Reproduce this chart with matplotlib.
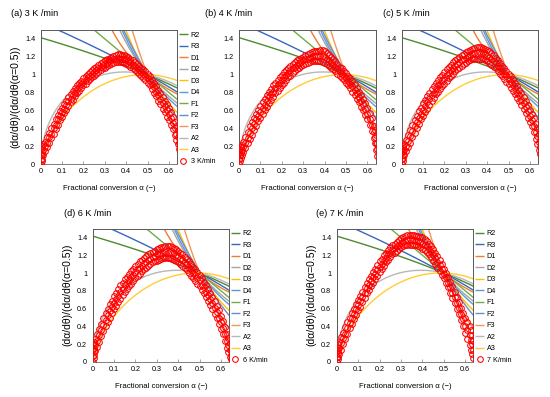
import numpy as np
import matplotlib
matplotlib.use("Agg")
import matplotlib.pyplot as plt
from matplotlib.lines import Line2D

plt.rcParams['font.family'] = ['Liberation Sans', 'DejaVu Sans']

# ---------------- data ----------------
alpha_grid = [0.000, 0.004, 0.008, 0.012, 0.02, 0.03, 0.04, 0.05, 0.06, 0.07, 0.08, 0.09,
              0.10, 0.11, 0.12, 0.13, 0.14, 0.15, 0.16, 0.17, 0.18, 0.19, 0.20, 0.21, 0.22,
              0.23, 0.24, 0.25, 0.26, 0.27, 0.28, 0.29, 0.30, 0.31, 0.32, 0.33, 0.34, 0.35,
              0.36, 0.37, 0.38, 0.39, 0.40, 0.41, 0.42, 0.43, 0.44, 0.45, 0.46, 0.47, 0.48,
              0.49, 0.50, 0.51, 0.52, 0.53, 0.54, 0.55, 0.56, 0.57, 0.58, 0.59, 0.60, 0.61,
              0.62, 0.63, 0.635, 0.64, 0.645]

a_hi = [0.10, 0.18, 0.20, 0.22, 0.25, 0.30, 0.35, 0.40, 0.45, 0.50, 0.55, 0.59, 0.63, 0.67, 0.71,
        0.75, 0.78, 0.82, 0.85, 0.88, 0.91, 0.93, 0.96, 0.98, 1.01, 1.03, 1.05, 1.07, 1.09, 1.11,
        1.13, 1.14, 1.16, 1.17, 1.18, 1.20, 1.21, 1.22, 1.23, 1.23, 1.22, 1.22, 1.21, 1.20, 1.18,
        1.16, 1.14, 1.12, 1.10, 1.08, 1.06, 1.04, 1.01, 0.98, 0.94, 0.91, 0.87, 0.83, 0.79, 0.75,
        0.71, 0.67, 0.63, 0.58, 0.53, 0.47, 0.42, 0.38, 0.32]
a_mid = [0.05, 0.10, 0.13, 0.16, 0.20, 0.24, 0.30, 0.34, 0.40, 0.44, 0.50, 0.54, 0.58, 0.62, 0.66,
         0.70, 0.73, 0.77, 0.80, 0.84, 0.86, 0.89, 0.92, 0.94, 0.97, 0.99, 1.01, 1.03, 1.05, 1.07,
         1.09, 1.11, 1.12, 1.13, 1.15, 1.16, 1.17, 1.18, 1.19, 1.18, 1.18, 1.17, 1.17, 1.15, 1.14,
         1.11, 1.10, 1.07, 1.05, 1.03, 1.01, 0.99, 0.96, 0.93, 0.89, 0.86, 0.81, 0.77, 0.73, 0.68,
         0.65, 0.60, 0.56, 0.51, 0.46, 0.40, 0.34, 0.30, 0.24]
a_lo = [0.00, 0.03, 0.06, 0.10, 0.14, 0.19, 0.24, 0.29, 0.34, 0.39, 0.44, 0.49, 0.53, 0.57, 0.61,
        0.65, 0.69, 0.72, 0.76, 0.79, 0.82, 0.85, 0.88, 0.90, 0.93, 0.95, 0.97, 0.99, 1.01, 1.03,
        1.05, 1.07, 1.08, 1.10, 1.11, 1.12, 1.13, 1.14, 1.14, 1.14, 1.14, 1.13, 1.12, 1.11, 1.09,
        1.07, 1.05, 1.03, 1.01, 0.99, 0.96, 0.94, 0.91, 0.88, 0.84, 0.80, 0.76, 0.71, 0.67, 0.62,
        0.58, 0.53, 0.49, 0.44, 0.39, 0.32, 0.27, 0.22, 0.17]

b_hi = [0.12, 0.17, 0.19, 0.21, 0.25, 0.30, 0.36, 0.42, 0.47, 0.52, 0.56, 0.61, 0.65, 0.69, 0.73,
        0.77, 0.81, 0.84, 0.88, 0.91, 0.94, 0.97, 1.00, 1.03, 1.05, 1.08, 1.10, 1.12, 1.14, 1.16,
        1.18, 1.19, 1.20, 1.22, 1.23, 1.24, 1.25, 1.26, 1.26, 1.27, 1.28, 1.28, 1.26, 1.24, 1.22,
        1.20, 1.17, 1.15, 1.12, 1.09, 1.07, 1.04, 1.02, 0.99, 0.96, 0.93, 0.89, 0.85, 0.81, 0.77,
        0.73, 0.68, 0.63, 0.57, 0.51, 0.43, 0.38, 0.32, 0.24]
b_mid = [0.06, 0.10, 0.13, 0.16, 0.19, 0.24, 0.29, 0.35, 0.40, 0.45, 0.50, 0.54, 0.58, 0.63, 0.66,
         0.70, 0.75, 0.78, 0.81, 0.85, 0.88, 0.91, 0.94, 0.97, 1.00, 1.02, 1.05, 1.07, 1.09, 1.11,
         1.13, 1.14, 1.16, 1.17, 1.18, 1.19, 1.20, 1.21, 1.21, 1.21, 1.21, 1.21, 1.20, 1.18, 1.16,
         1.14, 1.11, 1.09, 1.07, 1.04, 1.01, 0.99, 0.96, 0.93, 0.90, 0.87, 0.83, 0.79, 0.75, 0.70,
         0.67, 0.62, 0.56, 0.50, 0.44, 0.36, 0.30, 0.24, 0.17]
b_lo = [0.00, 0.03, 0.07, 0.10, 0.13, 0.18, 0.23, 0.28, 0.33, 0.38, 0.43, 0.48, 0.52, 0.56, 0.60,
        0.64, 0.68, 0.72, 0.75, 0.79, 0.82, 0.85, 0.88, 0.91, 0.94, 0.97, 0.99, 1.02, 1.04, 1.06,
        1.08, 1.10, 1.11, 1.12, 1.13, 1.14, 1.15, 1.15, 1.15, 1.15, 1.15, 1.14, 1.13, 1.12, 1.10,
        1.08, 1.06, 1.04, 1.01, 0.99, 0.96, 0.94, 0.91, 0.88, 0.85, 0.81, 0.77, 0.73, 0.69, 0.64,
        0.60, 0.55, 0.50, 0.44, 0.37, 0.29, 0.23, 0.16, 0.09]

c_hi = [0.13, 0.18, 0.20, 0.22, 0.27, 0.32, 0.38, 0.44, 0.49, 0.54, 0.59, 0.63, 0.68, 0.72, 0.76,
        0.80, 0.84, 0.87, 0.91, 0.94, 0.97, 1.00, 1.03, 1.06, 1.09, 1.11, 1.14, 1.16, 1.18, 1.20,
        1.22, 1.23, 1.25, 1.26, 1.28, 1.29, 1.30, 1.31, 1.31, 1.31, 1.30, 1.29, 1.28, 1.26, 1.24,
        1.22, 1.19, 1.16, 1.13, 1.10, 1.07, 1.04, 1.01, 0.98, 0.95, 0.91, 0.87, 0.83, 0.79, 0.75,
        0.70, 0.66, 0.61, 0.56, 0.51, 0.45, 0.40, 0.34, 0.27]
c_mid = [0.06, 0.10, 0.14, 0.16, 0.20, 0.26, 0.31, 0.37, 0.42, 0.47, 0.52, 0.56, 0.61, 0.65, 0.69,
         0.73, 0.77, 0.80, 0.84, 0.88, 0.90, 0.94, 0.96, 1.00, 1.02, 1.05, 1.08, 1.10, 1.12, 1.14,
         1.16, 1.17, 1.19, 1.20, 1.22, 1.23, 1.24, 1.24, 1.25, 1.24, 1.24, 1.23, 1.21, 1.20, 1.17,
         1.15, 1.13, 1.10, 1.07, 1.04, 1.01, 0.98, 0.95, 0.92, 0.88, 0.85, 0.80, 0.77, 0.72, 0.68,
         0.64, 0.59, 0.54, 0.49, 0.43, 0.36, 0.31, 0.25, 0.19]
c_lo = [0.00, 0.03, 0.07, 0.10, 0.14, 0.19, 0.24, 0.30, 0.35, 0.40, 0.45, 0.50, 0.54, 0.58, 0.62,
        0.66, 0.70, 0.74, 0.78, 0.81, 0.84, 0.87, 0.90, 0.93, 0.96, 0.99, 1.01, 1.04, 1.06, 1.08,
        1.10, 1.12, 1.13, 1.15, 1.16, 1.17, 1.17, 1.18, 1.18, 1.18, 1.17, 1.16, 1.15, 1.13, 1.11,
        1.09, 1.07, 1.04, 1.01, 0.98, 0.95, 0.92, 0.89, 0.85, 0.82, 0.78, 0.74, 0.70, 0.66, 0.62,
        0.57, 0.52, 0.47, 0.42, 0.36, 0.28, 0.22, 0.16, 0.11]

d_hi = [0.15, 0.20, 0.23, 0.26, 0.31, 0.37, 0.43, 0.49, 0.55, 0.60, 0.65, 0.69, 0.74, 0.78, 0.82,
        0.86, 0.89, 0.93, 0.96, 0.99, 1.02, 1.05, 1.08, 1.10, 1.13, 1.15, 1.17, 1.19, 1.21, 1.23,
        1.24, 1.25, 1.27, 1.28, 1.29, 1.29, 1.30, 1.30, 1.30, 1.29, 1.28, 1.27, 1.25, 1.23, 1.21,
        1.18, 1.16, 1.13, 1.10, 1.07, 1.04, 1.01, 0.98, 0.94, 0.90, 0.86, 0.82, 0.78, 0.73, 0.68,
        0.63, 0.58, 0.52, 0.46, 0.39, 0.32, 0.27, 0.21, 0.14]
d_mid = [0.07, 0.12, 0.16, 0.19, 0.24, 0.30, 0.36, 0.42, 0.47, 0.53, 0.57, 0.62, 0.66, 0.71, 0.74,
         0.79, 0.82, 0.86, 0.89, 0.92, 0.95, 0.98, 1.01, 1.04, 1.06, 1.08, 1.11, 1.12, 1.15, 1.16,
         1.18, 1.19, 1.21, 1.21, 1.23, 1.23, 1.24, 1.23, 1.24, 1.22, 1.22, 1.20, 1.19, 1.16, 1.15,
         1.12, 1.10, 1.06, 1.04, 1.00, 0.98, 0.94, 0.92, 0.87, 0.84, 0.79, 0.75, 0.71, 0.66, 0.61,
         0.56, 0.50, 0.45, 0.38, 0.32, 0.24, 0.19, 0.13, 0.08]
d_lo = [0.00, 0.04, 0.08, 0.12, 0.17, 0.23, 0.29, 0.35, 0.40, 0.45, 0.50, 0.55, 0.59, 0.63, 0.67,
        0.71, 0.75, 0.79, 0.82, 0.85, 0.88, 0.91, 0.94, 0.97, 0.99, 1.02, 1.04, 1.06, 1.08, 1.10,
        1.12, 1.13, 1.14, 1.15, 1.16, 1.17, 1.17, 1.17, 1.17, 1.16, 1.15, 1.14, 1.12, 1.10, 1.08,
        1.06, 1.03, 1.00, 0.97, 0.94, 0.91, 0.88, 0.85, 0.81, 0.77, 0.73, 0.68, 0.64, 0.59, 0.54,
        0.49, 0.43, 0.37, 0.31, 0.24, 0.16, 0.11, 0.06, 0.03]

e_alpha = [0.000, 0.004, 0.008, 0.012, 0.02, 0.03, 0.04, 0.05, 0.06, 0.07, 0.08, 0.09,
           0.10, 0.11, 0.12, 0.13, 0.14, 0.15, 0.16, 0.17, 0.18, 0.19, 0.20, 0.21, 0.22,
           0.23, 0.24, 0.25, 0.26, 0.27, 0.28, 0.29, 0.30, 0.31, 0.32, 0.33, 0.34, 0.35,
           0.36, 0.37, 0.38, 0.39, 0.40, 0.41, 0.42, 0.43, 0.44, 0.45, 0.46, 0.47, 0.48,
           0.49, 0.50, 0.51, 0.52, 0.53, 0.54, 0.55, 0.56, 0.57, 0.58, 0.59, 0.60, 0.61,
           0.62, 0.625, 0.63, 0.635]
e_hi = [0.12, 0.16, 0.20, 0.23, 0.28, 0.33, 0.39, 0.45, 0.50, 0.55, 0.60, 0.65, 0.70, 0.74, 0.79,
        0.84, 0.89, 0.93, 0.97, 1.01, 1.05, 1.09, 1.13, 1.16, 1.20, 1.23, 1.26, 1.29, 1.31, 1.33,
        1.35, 1.37, 1.39, 1.40, 1.42, 1.43, 1.43, 1.43, 1.43, 1.42, 1.42, 1.41, 1.40, 1.38, 1.36,
        1.33, 1.30, 1.27, 1.23, 1.19, 1.15, 1.10, 1.05, 1.00, 0.95, 0.90, 0.85, 0.79, 0.73, 0.67,
        0.61, 0.55, 0.50, 0.45, 0.40, 0.36, 0.30, 0.24]
e_mid = [0.06, 0.10, 0.13, 0.16, 0.21, 0.27, 0.32, 0.38, 0.44, 0.49, 0.54, 0.59, 0.64, 0.68, 0.73,
         0.78, 0.83, 0.87, 0.91, 0.95, 0.99, 1.03, 1.07, 1.10, 1.14, 1.17, 1.21, 1.23, 1.26, 1.28,
         1.30, 1.32, 1.34, 1.35, 1.36, 1.37, 1.38, 1.37, 1.37, 1.36, 1.36, 1.35, 1.33, 1.32, 1.30,
         1.27, 1.24, 1.20, 1.17, 1.12, 1.09, 1.04, 0.99, 0.95, 0.89, 0.84, 0.78, 0.73, 0.66, 0.61,
         0.54, 0.48, 0.41, 0.36, 0.30, 0.25, 0.20, 0.14]
e_lo = [0.00, 0.03, 0.06, 0.09, 0.14, 0.20, 0.26, 0.32, 0.38, 0.43, 0.48, 0.53, 0.58, 0.62, 0.67,
        0.72, 0.77, 0.81, 0.85, 0.89, 0.93, 0.97, 1.01, 1.05, 1.08, 1.12, 1.15, 1.18, 1.21, 1.23,
        1.25, 1.27, 1.29, 1.30, 1.31, 1.32, 1.32, 1.32, 1.31, 1.31, 1.30, 1.29, 1.27, 1.26, 1.24,
        1.21, 1.18, 1.14, 1.10, 1.06, 1.02, 0.98, 0.94, 0.89, 0.84, 0.78, 0.72, 0.66, 0.60, 0.54,
        0.47, 0.40, 0.33, 0.26, 0.19, 0.14, 0.09, 0.05]

model_names = ['R2', 'R3', 'D1', 'D2', 'D3', 'D4', 'F1', 'F2', 'F3', 'A2', 'A3']
model_colors = ['#4E8A2E', '#3A66BE', '#ED7D31', '#A5A5A5', '#FFC000', '#5B9BD5',
                '#70AD47', '#698ED0', '#F1975A', '#B7B7B7', '#FFCD33']

panel_titles = ['(a) 3 K /min', '(b) 4 K /min', '(c) 5 K /min', '(d) 6 K /min', '(e) 7 K /min']
rate_labels = ['3 K/min', '4 K/min', '5 K/min', '6 K/min', '7 K/min']
y_ticks = [0, 0.2, 0.4, 0.6, 0.8, 1.0, 1.2, 1.4]
y_tick_labels = ['0', '0.2', '0.4', '0.6', '0.8', '1', '1.2', '1.4']
x_ticks = [0, 0.1, 0.2, 0.3, 0.4, 0.5, 0.6]
x_tick_labels = ['0', '0.1', '0.2', '0.3', '0.4', '0.5', '0.6']


# -------- kinetic model functions f(a), normalised at a = 0.5 --------
def f_model(name, a):
    a = np.asarray(a, dtype=float)
    with np.errstate(divide='ignore', invalid='ignore'):
        if name == 'R2':
            v = (1 - a) ** 0.5
        elif name == 'R3':
            v = (1 - a) ** (2 / 3)
        elif name == 'D1':
            v = 1 / (2 * a)
        elif name == 'D2':
            v = 1 / (-np.log(1 - a))
        elif name == 'D3':
            v = 3 * (1 - a) ** (2 / 3) / (2 * (1 - (1 - a) ** (1 / 3)))
        elif name == 'D4':
            v = 3 / (2 * ((1 - a) ** (-1 / 3) - 1))
        elif name == 'F1':
            v = (1 - a)
        elif name == 'F2':
            v = (1 - a) ** 2
        elif name == 'F3':
            v = (1 - a) ** 3
        elif name == 'A2':
            v = 2 * (1 - a) * (-np.log(1 - a)) ** 0.5
        elif name == 'A3':
            v = 3 * (1 - a) * (-np.log(1 - a)) ** (2 / 3)
    v = np.where(np.isfinite(v), v, 0.0)  # spreadsheet error cells plotted as 0
    return v


a_curve = np.linspace(0, 0.65, 66)

W, H = 550, 397
fig = plt.figure(figsize=(W / 100, H / 100), dpi=100)


def px_axes(left, top, right, bottom):
    return fig.add_axes([left / W, 1 - bottom / H, (right - left) / W, (bottom - top) / H])


panels = [
    dict(box=(40.7, 30, 177, 164), alpha=alpha_grid, ys=(a_hi, a_mid, a_lo), title_xy=(11, 14),
         legend=True, ylabel=True),
    dict(box=(239, 30, 375.5, 164), alpha=alpha_grid, ys=(b_hi, b_mid, b_lo), title_xy=(205, 14),
         legend=False, ylabel=False),
    dict(box=(401.7, 30, 538, 164), alpha=alpha_grid, ys=(c_hi, c_mid, c_lo), title_xy=(383, 14),
         legend=False, ylabel=False),
    dict(box=(92.7, 228.5, 229, 362), alpha=alpha_grid, ys=(d_hi, d_mid, d_lo), title_xy=(64, 213),
         legend=True, ylabel=True),
    dict(box=(336.7, 228.5, 473.3, 362), alpha=e_alpha, ys=(e_hi, e_mid, e_lo), title_xy=(316, 213),
         legend=True, ylabel=True),
]

mk = dict(ls='none', marker='o', ms=4.1, mfc='none', mec='#FF0000', mew=0.75)

for i, p in enumerate(panels):
    l, t, r, b = p['box']
    ax = px_axes(l, t, r, b)
    handles = []
    for name, col in zip(model_names, model_colors):
        ln, = ax.plot(a_curve, f_model(name, a_curve) / f_model(name, 0.5), color=col, lw=1.0,
                      solid_capstyle='butt', zorder=2)
        handles.append(ln)
    for yv in p['ys']:
        ax.plot(p['alpha'], yv, zorder=3, **mk)
    dh = Line2D([], [], **mk)
    ax.set_xlim(0, 0.6375)
    ax.set_ylim(0, 1.5)
    ax.set_xticks(x_ticks)
    ax.set_xticklabels(x_tick_labels)
    ax.set_yticks(y_ticks)
    ax.set_yticklabels(y_tick_labels)
    ax.tick_params(axis='x', direction='in', length=2, width=0.5, color='#808080',
                   labelsize=5.2, pad=3)
    ax.tick_params(axis='y', length=0, labelsize=5.2, pad=4)
    for s in ax.spines.values():
        s.set_color('#595959')
        s.set_linewidth(0.7)
    ax.spines['bottom'].set_color('#808080')
    ax.set_xlabel('Fractional conversion α (−)', fontsize=5.6, labelpad=7)
    if p['ylabel']:
        ax.set_ylabel('(dα/dθ)/(dα/dθ(α=0.5))', fontsize=7.5, labelpad=3)
    fig.text(p['title_xy'][0] / W, 1 - p['title_xy'][1] / H, panel_titles[i], fontsize=6.6,
             ha='left', va='center')
    if p['legend']:
        fig.legend(handles + [dh], model_names + [rate_labels[i]],
                   loc='upper left', bbox_to_anchor=((r + 2) / W, 1 - (t + 1.5) / H),
                   frameon=False, fontsize=5.2, handlelength=1.2, handletextpad=0.4,
                   labelspacing=0.62, borderpad=0, borderaxespad=0, numpoints=1)

fig.savefig('out.png', dpi=100)
